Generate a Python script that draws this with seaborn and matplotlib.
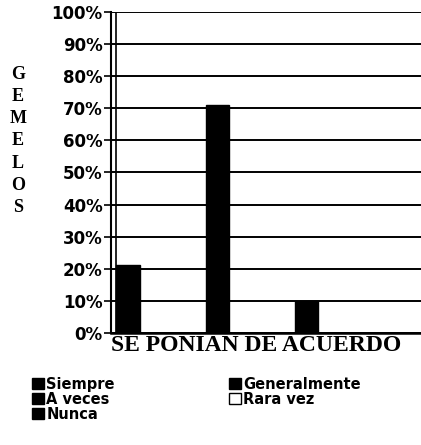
import matplotlib
matplotlib.use("Agg")
import matplotlib.pyplot as plt
import matplotlib.patches as mpatches
import seaborn as sns
import pandas as pd

# data
series = ["Siempre", "Generalmente", "A veces", "Rara vez", "Nunca"]
values = [21, 71, 10, 0, 0]
colors = ["black", "black", "black", "white", "black"]
yticks = [0, 10, 20, 30, 40, 50, 60, 70, 80, 90, 100]
xlabel = "SE PONIAN DE ACUERDO"
ylabel = "GEMELOS"

df = pd.DataFrame({"serie": series, "valor": values})

sns.set_style("white")
plt.rcParams["font.family"] = ["DejaVu Sans"]
plt.rcParams["text.color"] = "black"
plt.rcParams["ytick.color"] = "black"
plt.rcParams["ytick.labelcolor"] = "black"
plt.rcParams["axes.labelcolor"] = "black"

fig = plt.figure(figsize=(4.21, 4.45), dpi=100)
ax = fig.add_axes([0.264, 0.252, 0.736, 0.721])

ax.yaxis.grid(True, color="black", linewidth=1.4)
ax.set_axisbelow(True)
sns.barplot(data=df, x="serie", y="valor", hue="serie", order=series,
            palette=dict(zip(series, colors)), width=0.26, legend=False,
            edgecolor="black", linewidth=1, ax=ax)

ax.set_xlim(-0.19, 3.29)
ax.set_ylim(0, 100)
ax.set_yticks(yticks)
ax.set_yticklabels([f"{t}%" for t in yticks], fontsize=12, fontweight="heavy")
ax.tick_params(axis="y", direction="out", length=5, width=1.2, color="black", pad=1, left=True)
ax.set_xticks([])
ax.set_xlabel(xlabel, family="Liberation Serif", fontweight="bold", fontsize=17)
ax.xaxis.set_label_coords(0.468, -0.008, transform=ax.transAxes)
ax.xaxis.label.set_va("top")
ax.set_ylabel("")

for side in ["top", "right"]:
    ax.spines[side].set_visible(False)
ax.spines["left"].set_linewidth(1.5)
ax.spines["bottom"].set_linewidth(1.8)
for s in ["left", "bottom"]:
    ax.spines[s].set_color("black")
ax.axvline(-0.135, color="black", linewidth=1.2)

fig.text(0.043, 0.852, "\n".join(ylabel), family="Liberation Serif", fontweight="bold",
         fontsize=13, ha="center", va="top", linespacing=1.4)

handles = [mpatches.Patch(facecolor=c, edgecolor="black", label=s) for s, c in zip(series, colors)]
order = [0, 2, 4, 1, 3]
fig.legend([handles[i] for i in order], [series[i] for i in order], ncol=2,
           loc="upper left", bbox_to_anchor=(0.058, 0.17), frameon=False,
           prop={"weight": "heavy", "size": 10.5}, handlelength=0.85, handleheight=0.75,
           handletextpad=0.15, labelspacing=0.0, columnspacing=7.8, borderpad=0)

fig.savefig("out.png", dpi=100)
